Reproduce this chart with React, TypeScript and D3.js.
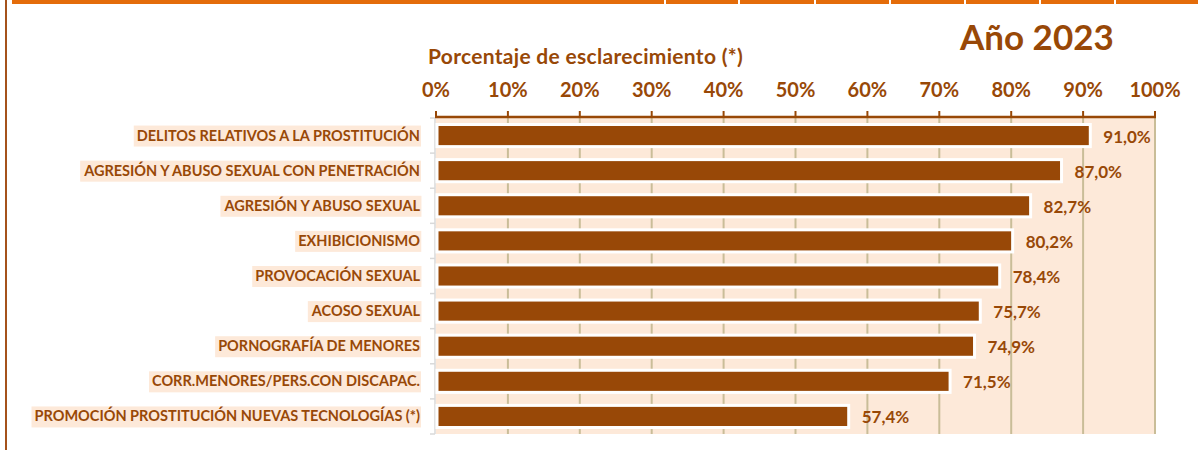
import React, { useRef, useEffect } from 'react';
import * as d3 from 'd3';

const categories = [
  'DELITOS RELATIVOS A LA PROSTITUCIÓN',
  'AGRESIÓN Y ABUSO SEXUAL CON PENETRACIÓN',
  'AGRESIÓN Y ABUSO SEXUAL',
  'EXHIBICIONISMO',
  'PROVOCACIÓN SEXUAL',
  'ACOSO SEXUAL',
  'PORNOGRAFÍA DE MENORES',
  'CORR.MENORES/PERS.CON DISCAPAC.',
  'PROMOCIÓN PROSTITUCIÓN NUEVAS TECNOLOGÍAS (*)'
];
const values = [91.0, 87.0, 82.7, 80.2, 78.4, 75.7, 74.9, 71.5, 57.4];
const xTicks = [0, 10, 20, 30, 40, 50, 60, 70, 80, 90, 100];
const axisTitle = 'Porcentaje de esclarecimiento (*)';
const yearLabel = 'Año 2023';
// white gaps of the table header strip above the chart
const headerGaps = [664, 738, 814, 889, 964, 1039, 1114];

const W = 1198;
const H = 450;
const BROWN = '#984807';
const PEACH = '#FDE9D9';
const TAN = '#C9BD98';
const FONT = 'Lato, "Open Sans", sans-serif';

const App = () => {
  const ref = useRef<SVGSVGElement>(null);

  useEffect(() => {
    const svg = d3.select(ref.current);
    svg.selectAll('*').remove();

    const x = d3.scaleLinear().domain([0, 100]).range([436, 1155]);
    const y = d3.scaleBand<string>()
      .domain(categories)
      .range([118, 434])
      .paddingInner(0.37)
      .paddingOuter(0.185);
    const step = y.step();

    // header strip + left border
    svg.append('rect').attr('x', 12).attr('y', 0).attr('width', W - 12).attr('height', 4).attr('fill', '#E46C0A');
    svg.selectAll('.gap').data(headerGaps).enter().append('rect')
      .attr('x', d => d).attr('y', 0).attr('width', 2).attr('height', 4).attr('fill', '#fff');
    svg.append('rect').attr('x', 5).attr('y', 0).attr('width', 2).attr('height', H).attr('fill', '#A5521B');

    // plot background
    svg.append('rect')
      .attr('x', x(0)).attr('y', 118)
      .attr('width', x(100) - x(0)).attr('height', 434 - 118)
      .attr('fill', PEACH);

    // gridlines
    svg.append('g').selectAll('line').data(xTicks.slice(1)).enter().append('line')
      .attr('x1', d => x(d)).attr('x2', d => x(d))
      .attr('y1', 118).attr('y2', 434)
      .attr('stroke', TAN).attr('stroke-width', 2);

    // category axis
    svg.append('line')
      .attr('x1', 435).attr('x2', 435).attr('y1', 118).attr('y2', 434)
      .attr('stroke', '#D9D9D9').attr('stroke-width', 1.5);
    svg.append('g').selectAll('line').data(d3.range(categories.length + 1)).enter().append('line')
      .attr('x1', 430).attr('x2', 435)
      .attr('y1', i => 118 + i * step).attr('y2', i => 118 + i * step)
      .attr('stroke', '#D9D9D9').attr('stroke-width', 1.5);

    // bars
    svg.append('g').selectAll('rect').data(values).enter().append('rect')
      .attr('x', x(0) + 1)
      .attr('y', (d, i) => y(categories[i]) as number)
      .attr('width', d => x(d) - x(0) - 1)
      .attr('height', y.bandwidth())
      .attr('fill', BROWN)
      .attr('stroke', '#fff')
      .attr('stroke-width', 3);

    // value labels
    svg.append('g').selectAll('text').data(values).enter().append('text')
      .attr('x', d => x(d) + 13)
      .attr('y', (d, i) => (y(categories[i]) as number) + y.bandwidth() / 2 + 7)
      .attr('fill', BROWN)
      .style('font-family', FONT)
      .style('font-weight', 'bold')
      .style('font-size', '17px')
      .text(d => d.toFixed(1).replace('.', ',') + '%');

    // top axis
    svg.append('line')
      .attr('x1', x(0) - 1).attr('x2', x(100) + 1).attr('y1', 117).attr('y2', 117)
      .attr('stroke', BROWN).attr('stroke-width', 2.5);
    svg.append('g').selectAll('line').data(xTicks).enter().append('line')
      .attr('x1', d => x(d)).attr('x2', d => x(d)).attr('y1', 111).attr('y2', 117)
      .attr('stroke', BROWN).attr('stroke-width', 2);
    svg.append('g').selectAll('text').data(xTicks).enter().append('text')
      .attr('x', d => x(d)).attr('y', 97)
      .attr('text-anchor', 'middle')
      .attr('fill', BROWN)
      .style('font-family', FONT)
      .style('font-weight', 'bold')
      .style('font-size', '20px')
      .text(d => d + '%');

    // category labels with highlight
    const cat = svg.append('g').selectAll('g').data(categories).enter().append('g');
    const bg = cat.append('rect').attr('fill', PEACH);
    const txt = cat.append('text')
      .attr('x', 420)
      .attr('y', d => (y(d) as number) + y.bandwidth() / 2 + 5)
      .attr('text-anchor', 'end')
      .attr('fill', BROWN)
      .style('font-family', FONT)
      .style('font-weight', 'bold')
      .style('font-size', '14.5px')
      .text(d => d);
    txt.each(function (d, i) {
      const b = (this as SVGTextElement).getBBox();
      d3.select(bg.nodes()[i])
        .attr('x', b.x - 3).attr('y', (y(d) as number) + y.bandwidth() / 2 - 10)
        .attr('width', b.width + 4).attr('height', 21);
    });

    // titles
    svg.append('text')
      .attr('x', 428).attr('y', 64)
      .attr('fill', BROWN)
      .style('font-family', FONT)
      .style('font-weight', 'bold')
      .style('font-size', '21px')
      .style('letter-spacing', '0.3px')
      .text(axisTitle);
    svg.append('text')
      .attr('x', 960).attr('y', 50)
      .attr('fill', BROWN)
      .style('font-family', FONT)
      .style('font-weight', 'bold')
      .style('font-size', '35px')
      .text(yearLabel);
  }, []);

  return (
    <svg ref={ref} width={W} height={H}
      style={{ position: 'absolute', left: 0, top: 0, background: '#fff' }} />
  );
};

export default App;
